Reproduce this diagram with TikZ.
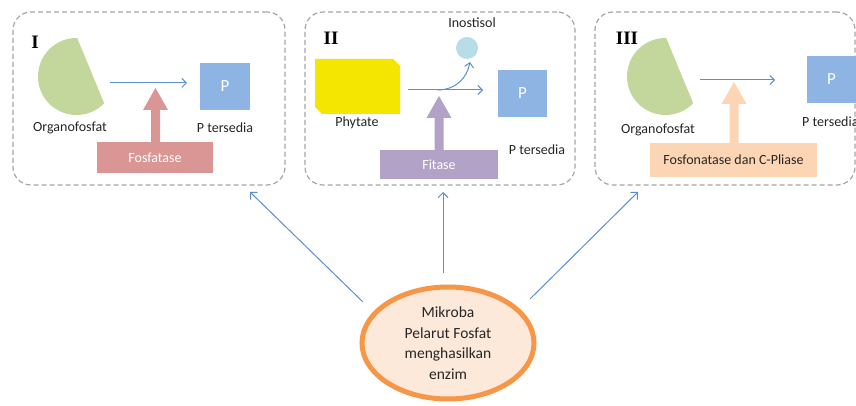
\documentclass[tikz,border=0pt]{standalone}
\usepackage{fontspec}
\setmainfont{Carlito}
\newfontfamily\romanfont{Liberation Serif}
\usetikzlibrary{arrows.meta,shapes.geometric}
\definecolor{dashgray}{HTML}{A6A6A6}
\definecolor{arrowblue}{HTML}{5B8FCF}
\definecolor{pblue}{HTML}{8EB4E3}
\definecolor{discgreen}{HTML}{C3D69B}
\definecolor{fosred}{HTML}{DA9694}
\definecolor{fitpurple}{HTML}{B3A2C7}
\definecolor{peach}{HTML}{FCD5B5}
\definecolor{phyyellow}{HTML}{F5E600}
\definecolor{inocyan}{HTML}{B7DEE8}
\definecolor{ellorange}{HTML}{F79646}
\definecolor{ellfill}{HTML}{FDE9D9}
\definecolor{txt}{HTML}{262626}
\newcommand\myfatarrow[4]{% color, x, bottom, tip
  \fill[#1] ({#2-4.5},#3) -- ({#2-4.5},{#4-22}) -- ({#2-12.5},{#4-22}) -- (#2,#4)
     -- ({#2+12.5},{#4-22}) -- ({#2+4.5},{#4-22}) -- ({#2+4.5},#3) -- cycle;}
\begin{document}
\begin{tikzpicture}[x=1pt,y=1pt,
  groupbox/.style={draw=dashgray,dashed,dash pattern=on 5pt off 3pt,line width=1.2pt,rounded corners=18pt,minimum height=173pt},
  lbl/.style={font=\fontsize{14}{16}\selectfont,text=txt,inner sep=0pt},
  numeral/.style={font=\romanfont\bfseries\fontsize{19}{21}\selectfont,inner sep=0pt},
  psq/.style={fill=pblue,text=white,font=\fontsize{17}{19}\selectfont},
  enzbox/.style={font=\fontsize{14}{16}\selectfont,inner sep=0pt},
  flow/.style={draw=arrowblue,line width=1pt,-{Straight Barb[length=4.5pt,width=9pt]}},
  bigflow/.style={draw=arrowblue,line width=1pt,-{Straight Barb[length=5pt,width=10pt]}}
]
\useasboundingbox (0,0) rectangle (856,406);
\fill[white] (0,0) rectangle (856,406);

% group boxes
\node[groupbox,minimum width=272pt] (box1) at (149,307.5) {};
\node[groupbox,minimum width=270pt] (box2) at (440,307.5) {};
\node[groupbox,minimum width=260pt] (box3) at (725,307.5) {};

% ---------- Box I ----------
\node[numeral] (n1) at (35,364) {I};
\fill[discgreen] (76.5,329.5) ++(89:38.5) arc[start angle=89,end angle=316,radius=38.5] -- cycle;
\node[lbl] (org1) at (70,278) {Organofosfat};
\node[psq,minimum width=50pt,minimum height=47pt] (p1) at (225,319.5) {P};
\node[lbl] (pt1) at (225,278) {P tersedia};
\coordinate (a1s) at (110,323);
\coordinate (a1e) at (187,323);
\draw[flow] (a1s) -- (a1e);
\myfatarrow{fosred}{155.5}{263}{318}
\node[enzbox,fill=fosred,text=white,minimum width=116pt,minimum height=31pt] (enz1) at (155,248.5) {Fosfatase};

% ---------- Box II ----------
\node[numeral] (n2) at (331,368) {II};
\fill[phyyellow] (315,292) ++(0,7) -- (315,347) -- (393,347) -- (400,340) -- (400,292) -- (322,292) -- cycle;
\node[lbl] (phy) at (357,283) {Phytate};
\node[circle,fill=inocyan,minimum size=22pt,inner sep=0pt] (ino) at (467,358) {};
\node[lbl] (inol) at (472,383) {Inostisol};
\node[psq,minimum width=49pt,minimum height=47pt] (p2) at (522.5,312.5) {P};
\node[lbl] (pt2) at (537,256) {P tersedia};
\coordinate (a2s) at (408,316);
\coordinate (a2e) at (483,316);
\coordinate (a2b) at (437,316);
\draw[flow] (a2s) -- (a2e);
\draw[flow] (a2b) .. controls (456,316) and (467,328) .. (470,344);
\myfatarrow{fitpurple}{439}{255}{310}
\node[enzbox,fill=fitpurple,text=white,minimum width=118pt,minimum height=29pt] (enz2) at (439,241.5) {Fitase};

% ---------- Box III ----------
\node[numeral] (n3) at (627,368) {III};
\fill[discgreen] (665.5,329.5) ++(89:38.5) arc[start angle=89,end angle=316,radius=38.5] -- cycle;
\node[lbl] (org3) at (658,276) {Organofosfat};
\node[psq,minimum width=49pt,minimum height=47pt] (p3) at (831.5,326.5) {P};
\node[lbl,anchor=west] (pt3) at (802,284) {P tersedia};
\coordinate (a3s) at (700,326);
\coordinate (a3e) at (775,326);
\draw[flow] (a3s) -- (a3e);
\myfatarrow{peach}{734}{262}{324}
\node[enzbox,fill=peach,text=txt,minimum width=167pt,minimum height=34pt] (enz3) at (733.5,246) {Fosfonatase dan C-Pliase};

% ---------- Bottom ellipse ----------
\node[ellipse,draw=ellorange,line width=5pt,fill=ellfill,minimum width=172pt,minimum height=112pt,inner sep=0pt,
      align=center,font=\fontsize{15.5}{20.5}\selectfont,text=txt] (mpf) at (448,63)
      {Mikroba\\Pelarut Fosfat\\menghasilkan\\enzim};
\coordinate (s1) at (363,104);
\coordinate (t1) at (250,214);
\coordinate (s2) at (443,133);
\coordinate (t2) at (443,214);
\coordinate (s3) at (530,107);
\coordinate (t3) at (638,214);
\draw[bigflow] (s1) -- (t1);
\draw[bigflow] (s2) -- (t2);
\draw[bigflow] (s3) -- (t3);
\end{tikzpicture}
\end{document}
